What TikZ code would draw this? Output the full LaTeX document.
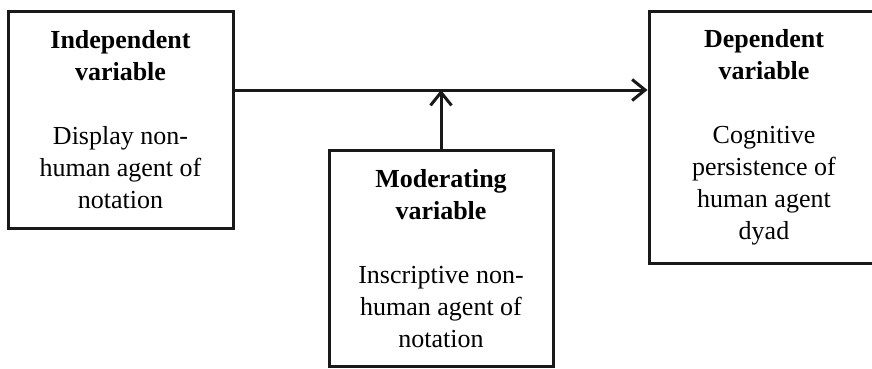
\documentclass[tikz,border=0pt]{standalone}
\usepackage{fontspec}
\setmainfont{Liberation Serif}
\usetikzlibrary{arrows.meta}
\tikzset{
  varbox/.style={draw=black!90, line width=3pt, inner sep=0pt, align=center,
    font=\fontsize{26}{32}\selectfont},
  conn/.style={draw=black!90, line width=3pt,
    -{Straight Barb[length=13pt,width=21pt,line width=3pt]}}
}
\begin{document}
\begin{tikzpicture}[x=1pt,y=-1pt]
\useasboundingbox (0,0) rectangle (872,368);
\node[varbox, minimum width=225pt, minimum height=217pt] (iv) at (120.5,119.5)
  {\textbf{Independent}\\\textbf{variable}\\[32pt]Display non-\\human agent of\\notation};
\node[varbox, minimum width=230pt, minimum height=252pt] (dv) at (764,137)
  {\textbf{Dependent}\\\textbf{variable}\\[32pt]Cognitive\\persistence of\\human agent\\dyad};
\node[varbox, minimum width=224pt, minimum height=216pt] (mv) at (441,258.5)
  {\textbf{Moderating}\\\textbf{variable}\\[32pt]Inscriptive non-\\human agent of\\notation};
\coordinate (h) at (0,90);
\draw[conn] (iv.east |- h) -- (dv.west |- h);
\draw[conn] (mv.north) -- (mv.north |- h);
\end{tikzpicture}
\end{document}
